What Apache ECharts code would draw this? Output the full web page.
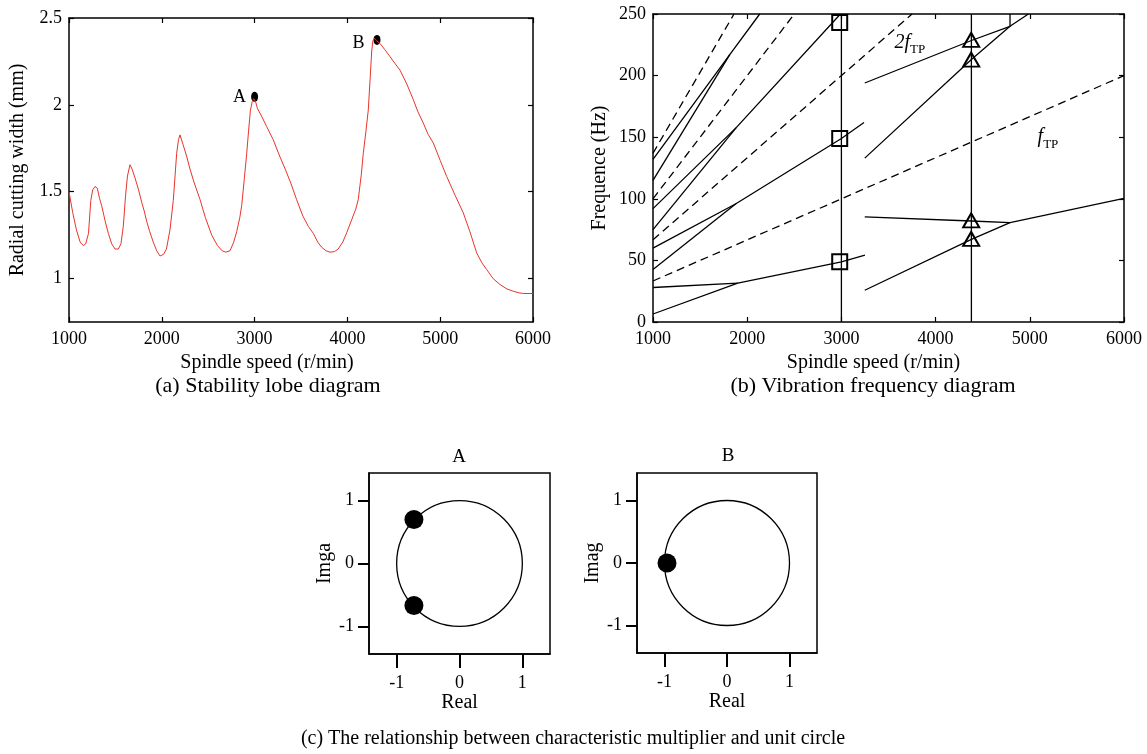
<!DOCTYPE html>
<html>
<head>
<meta charset="utf-8">
<script src="https://cdn.jsdelivr.net/npm/echarts@6/dist/echarts.min.js"></script>
<style>
  html, body { margin: 0; padding: 0; background: #fff; }
  #chart { width: 1147px; height: 754px; }
</style>
</head>
<body>
<div id="chart"></div>
<script>
// (a) stability lobe: [spindle speed (r/min), radial cutting width (mm)]
const lobeCurve = [
  [1000,1.50],[1040,1.38],[1080,1.28],[1120,1.21],[1154,1.19],[1180,1.20],[1210,1.26],[1235,1.45],
  [1255,1.51],[1280,1.53],[1305,1.52],[1330,1.46],[1352,1.42],[1390,1.33],[1424,1.26],[1460,1.20],
  [1496,1.17],[1532,1.17],[1560,1.20],[1585,1.30],[1610,1.48],[1630,1.59],[1657,1.655],[1680,1.63],
  [1711,1.58],[1750,1.51],[1783,1.44],[1810,1.39],[1837,1.33],[1870,1.27],[1908,1.21],[1945,1.16],
  [1981,1.13],[2020,1.14],[2050,1.17],[2088,1.28],[2124,1.45],[2160,1.72],[2180,1.80],[2196,1.827],
  [2230,1.77],[2270,1.70],[2304,1.63],[2350,1.55],[2412,1.455],[2470,1.35],[2538,1.25],[2600,1.19],
  [2650,1.16],[2690,1.152],[2735,1.16],[2775,1.21],[2807,1.27],[2840,1.35],[2861,1.42],[2890,1.58],
  [2915,1.72],[2935,1.85],[2955,1.97],[2975,2.02],[2990,2.035],[3010,2.02],[3030,1.98],[3080,1.93],
  [3130,1.875],[3200,1.80],[3274,1.70],[3330,1.63],[3390,1.55],[3453,1.454],[3520,1.36],[3580,1.30],
  [3633,1.26],[3680,1.21],[3723,1.18],[3770,1.16],[3812,1.152],[3860,1.155],[3900,1.17],[3950,1.21],
  [3992,1.263],[4047,1.34],[4090,1.40],[4117,1.455],[4150,1.60],[4171,1.72],[4200,1.85],[4225,1.97],
  [4245,2.15],[4262,2.31],[4275,2.37],[4290,2.383],[4310,2.37],[4351,2.354],[4400,2.32],[4459,2.278],
  [4510,2.24],[4567,2.20],[4640,2.12],[4710,2.03],[4760,1.96],[4818,1.895],[4870,1.83],[4926,1.78],
  [5000,1.68],[5070,1.588],[5160,1.48],[5249,1.378],[5320,1.27],[5393,1.148],[5450,1.09],[5501,1.052],
  [5570,1.00],[5644,0.966],[5720,0.94],[5788,0.927],[5850,0.918],[5896,0.914],[6000,0.914]
];
const lobePointA = [3000, 2.046];
const lobePointB = [4319, 2.374];
const lobeYTicks = [1, 1.5, 2, 2.5];

// (b) vibration frequencies: [spindle speed (r/min), frequency (Hz)]
const harmonicTP = [
  [[1000, 33.3], [6000, 200]],
  [[1000, 66.7], [3750, 250]],
  [[1000, 100], [2500, 250]],
  [[1000, 137], [1860, 250]]
];
const chatterLines = [
  [[1000, 6.5], [1900, 31.5], [3000, 48.8], [3250, 54.3]],
  [[1000, 28], [1900, 31.5]],
  [[1000, 42.6], [1880, 96]],
  [[1000, 60], [1880, 96], [3000, 149], [3240, 162]],
  [[1000, 75], [1886, 158]],
  [[1000, 92], [1886, 158], [2990, 250]],
  [[1000, 115], [1815, 217]],
  [[1000, 132], [1815, 217], [2133, 250]],
  [[3248, 194], [4380, 228.5], [4790, 240], [4790, 250]],
  [[3248, 133], [4380, 213], [4790, 240], [4985, 250]],
  [[3248, 85.4], [4380, 82], [4790, 80.6], [6000, 100.4]],
  [[3248, 25.8], [4380, 67], [4790, 80.6]]
];
const speedMarkers = [
  [[3000, 0], [3000, 250]],
  [[4380, 0], [4380, 250]]
];
const squarePoints = [[2982, 243], [2982, 149], [2982, 49]];
const trianglePoints = [[4378, 229], [4378, 213], [4378, 82.5], [4378, 67.5]];
const harmonicLabelPos = [[3727, 227], [5193, 150]];
const harmonicLabelMain = ['2f', 'f'];
const harmonicLabelSub = ['TP', 'TP'];

// (c) characteristic multipliers on the complex plane
const unitCircle = [[0, 0, 1]];
const multipliersA = [[-0.725, 0.70], [-0.725, -0.667]];
const multipliersB = [[-0.96, 0]];
const planeTicks = [-1, 0, 1];

const FONT = "'Liberation Serif', 'Times New Roman', serif";
const BLACK = '#000';
const TICK_SIZE = 18;
const NAME_SIZE = 20;

function frameAxis(o) {
  return {
    type: 'value',
    gridIndex: o.grid,
    position: o.pos,
    min: o.min,
    max: o.max,
    interval: o.interval,
    name: o.name || '',
    nameLocation: 'middle',
    nameGap: o.nameGap || 30,
    nameTextStyle: Object.assign({ fontFamily: FONT, fontSize: NAME_SIZE, color: BLACK }, o.nameStyle || {}),
    axisLine: { show: true, onZero: false, lineStyle: { color: BLACK, width: 1.5 } },
    axisTick: Object.assign({
      show: true, inside: true, length: 5, lineStyle: { color: BLACK, width: 1.2 }
    }, o.tick || {}),
    axisLabel: Object.assign({
      show: !!o.labels, color: BLACK, fontFamily: FONT, fontSize: TICK_SIZE, margin: 8,
      formatter: v => String(v)
    }, o.label || {}),
    splitLine: { show: false }
  };
}

const chart = echarts.init(document.getElementById('chart'), null, { renderer: 'canvas' });

const planeAxisX = (grid, name) => frameAxis({
  grid, pos: 'bottom', min: -1.44, max: 1.44, labels: true, name, nameGap: 39,
  tick: { inside: false, length: 14, customValues: planeTicks, lineStyle: { color: BLACK, width: 2 } },
  label: { customValues: planeTicks, margin: 20 }
});
const planeAxisY = (grid, name) => frameAxis({
  grid, pos: 'left', min: -1.44, max: 1.44, labels: true, name, nameGap: 34,
  tick: { inside: false, length: 11, customValues: planeTicks, lineStyle: { color: BLACK, width: 2 } },
  label: { customValues: planeTicks, margin: 15 }
});

const series = [];

// (a)
series.push({
  type: 'line', xAxisIndex: 0, yAxisIndex: 0, data: lobeCurve, symbol: 'none',
  lineStyle: { color: '#e8352b', width: 1 }
});
series.push({
  type: 'scatter', xAxisIndex: 0, yAxisIndex: 0, symbol: 'circle', symbolSize: [7, 10],
  itemStyle: { color: BLACK, opacity: 1 },
  label: { show: true, position: 'left', color: BLACK, fontFamily: FONT, fontSize: TICK_SIZE, formatter: p => p.name },
  data: [
    { name: 'A', value: lobePointA, label: { distance: 5 } },
    { name: 'B', value: lobePointB, label: { distance: 9, offset: [0, 3] } }
  ]
});

// (b)
harmonicTP.forEach(d => series.push({
  type: 'line', xAxisIndex: 2, yAxisIndex: 2, data: d, symbol: 'none',
  lineStyle: { color: BLACK, width: 1.3, type: [8, 5] }
}));
chatterLines.concat(speedMarkers).forEach(d => series.push({
  type: 'line', xAxisIndex: 2, yAxisIndex: 2, data: d, symbol: 'none',
  lineStyle: { color: BLACK, width: 1.3 }
}));
series.push({
  type: 'scatter', xAxisIndex: 2, yAxisIndex: 2, data: squarePoints, symbol: 'rect', symbolSize: 15,
  itemStyle: { color: 'rgba(0,0,0,0)', borderColor: BLACK, borderWidth: 2, opacity: 1 }
});
series.push({
  type: 'scatter', xAxisIndex: 2, yAxisIndex: 2, data: trianglePoints, symbol: 'triangle', symbolSize: [16, 14],
  itemStyle: { color: 'rgba(0,0,0,0)', borderColor: BLACK, borderWidth: 2, opacity: 1 }
});
// harmonic names, italic with a roman subscript
series.push({
  type: 'custom', xAxisIndex: 2, yAxisIndex: 2,
  data: harmonicLabelPos.map((p, i) => [p[0], p[1], i]),
  renderItem: (params, api) => {
    const c = api.coord([api.value(0), api.value(1)]);
    const i = api.value(2);
    return {
      type: 'text', x: c[0], y: c[1],
      style: {
        text: '{m|' + harmonicLabelMain[i] + '}{s|' + harmonicLabelSub[i] + '}',
        align: 'center', verticalAlign: 'middle', fill: BLACK,
        rich: {
          m: { fontFamily: FONT, fontSize: 20, fontStyle: 'italic', fill: BLACK, lineHeight: 28, verticalAlign: 'middle' },
          s: { fontFamily: FONT, fontSize: 13, fill: BLACK, lineHeight: 13, verticalAlign: 'bottom' }
        }
      }
    };
  }
});

// (c)
const circleItem = (params, api) => {
  const c = api.coord([api.value(0), api.value(1)]);
  const s = api.size([api.value(2), api.value(2)]);
  return {
    type: 'circle',
    shape: { cx: c[0], cy: c[1], r: (s[0] + s[1]) / 2 },
    style: { fill: null, stroke: BLACK, lineWidth: 1.3 }
  };
};
[[4, multipliersA], [5, multipliersB]].forEach(([idx, pts]) => {
  series.push({ type: 'custom', xAxisIndex: idx, yAxisIndex: idx, data: unitCircle, renderItem: circleItem });
  series.push({
    type: 'scatter', xAxisIndex: idx, yAxisIndex: idx, data: pts, symbol: 'circle', symbolSize: 19,
    itemStyle: { color: BLACK, opacity: 1 }
  });
});

const option = {
  animation: false,
  backgroundColor: '#fff',
  grid: [
    { left: 69, top: 18, width: 464, height: 304 },
    { left: 653, top: 14, width: 471, height: 308 },
    { left: 369, top: 473, width: 181, height: 181, show: true, borderColor: BLACK, borderWidth: 1.5, backgroundColor: 'transparent' },
    { left: 637, top: 473, width: 180, height: 180, show: true, borderColor: BLACK, borderWidth: 1.5, backgroundColor: 'transparent' }
  ],
  xAxis: [
    frameAxis({ grid: 0, pos: 'bottom', min: 1000, max: 6000, interval: 1000, labels: true,
      name: 'Spindle speed (r/min)', nameGap: 31, nameStyle: { padding: [0, 68, 0, 0] } }),
    frameAxis({ grid: 0, pos: 'top', min: 1000, max: 6000, interval: 1000 }),
    frameAxis({ grid: 1, pos: 'bottom', min: 1000, max: 6000, interval: 1000, labels: true,
      name: 'Spindle speed (r/min)', nameGap: 31, nameStyle: { padding: [0, 30, 0, 0] } }),
    frameAxis({ grid: 1, pos: 'top', min: 1000, max: 6000, interval: 1000 }),
    planeAxisX(2, 'Real'),
    planeAxisX(3, 'Real')
  ],
  yAxis: [
    frameAxis({ grid: 0, pos: 'left', min: 0.75, max: 2.5, labels: true,
      name: 'Radial cutting width (mm)', nameGap: 41,
      tick: { customValues: lobeYTicks }, label: { customValues: lobeYTicks, margin: 7 } }),
    frameAxis({ grid: 0, pos: 'right', min: 0.75, max: 2.5, tick: { customValues: lobeYTicks } }),
    frameAxis({ grid: 1, pos: 'left', min: 0, max: 250, interval: 50, labels: true,
      name: 'Frequence (Hz)', nameGap: 43, label: { margin: 7 } }),
    frameAxis({ grid: 1, pos: 'right', min: 0, max: 250, interval: 50 }),
    planeAxisY(2, 'Imga'),
    planeAxisY(3, 'Imag')
  ],
  series: series,
  graphic: [
    { type: 'text', x: 268, y: 386, style: { text: '(a) Stability lobe diagram', font: '22px ' + FONT, fill: BLACK, textAlign: 'center', textVerticalAlign: 'middle' } },
    { type: 'text', x: 873, y: 386, style: { text: '(b) Vibration frequency diagram', font: '22px ' + FONT, fill: BLACK, textAlign: 'center', textVerticalAlign: 'middle' } },
    { type: 'text', x: 573, y: 739, style: { text: '(c) The relationship between characteristic multiplier and unit circle', font: '20px ' + FONT, fill: BLACK, textAlign: 'center', textVerticalAlign: 'middle' } },
    { type: 'text', x: 459, y: 457, style: { text: 'A', font: '19px ' + FONT, fill: BLACK, textAlign: 'center', textVerticalAlign: 'middle' } },
    { type: 'text', x: 728, y: 456, style: { text: 'B', font: '19px ' + FONT, fill: BLACK, textAlign: 'center', textVerticalAlign: 'middle' } }
  ]
};

chart.setOption(option);
</script>
</body>
</html>
